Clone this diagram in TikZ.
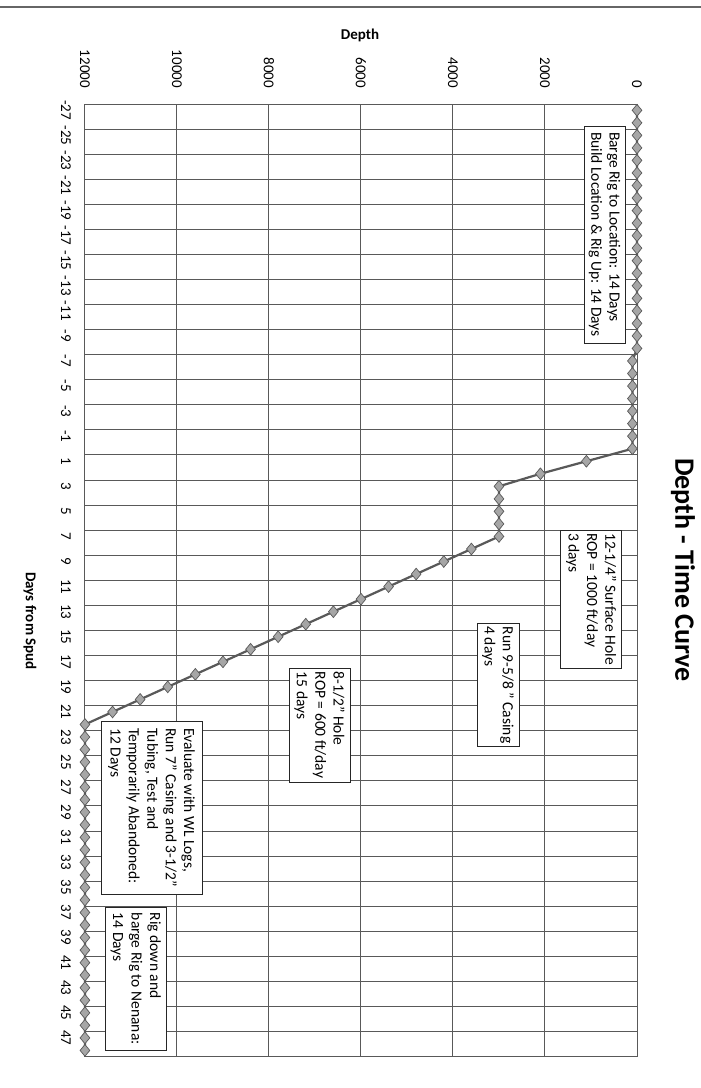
\documentclass[tikz,border=0pt]{standalone}
\usepackage{fontspec}
\setmainfont{Carlito}
\usetikzlibrary{shapes.geometric}

\begin{document}
\begin{tikzpicture}[
    x=1pt, y=-1pt,
    gridline/.style={draw=black!65, line width=1pt},
    welltrack/.style={draw=black!65, line width=2.2pt, line join=round},
    daymark/.style={diamond, draw=black!65, fill=black!35, line width=0.7pt, inner sep=0pt, minimum width=10pt, minimum height=12pt},
    notebox/.style={draw=black!85, line width=1pt, fill=white, rotate=-90, align=left, inner sep=3pt, font=\fontsize{15.5}{18.4}\selectfont},
    ticklbl/.style={rotate=-90, inner sep=0pt, font=\fontsize{15}{17}\selectfont},
    axislbl/.style={inner sep=0pt, font=\bfseries\fontsize{15}{17}\selectfont}
]
    \useasboundingbox (0,0) rectangle (701,1088);
    \fill[white] (0,0) rectangle (701,1088);

    % scan edge at the top of the page
    \draw[black!60, line width=1.3pt] (0,7) -- (701,7);

    % plot area: depth along x, days (categories) along y
    \begin{scope}[shift={(637,104)}, x={(-0.046pt,0pt)}, y={(0pt,-12.535pt)}]
        \foreach \dep in {0,2000,...,12000}
            \draw[gridline] (\dep,0) -- (\dep,76);
        \foreach \k in {0,2,...,76}
            \draw[gridline] (0,\k) -- (12000,\k);

        % depth per day, -27 to 48
        \foreach \dep [count=\k from 0] in {0,0,0,0,0,0,0,0,0,0,0,0,0,0,0,0,0,0,0,0,
                100,100,100,100,100,100,100,100,1100,2100,3000,3000,3000,3000,3000,
                3600,4200,4800,5400,6000,6600,7200,7800,8400,9000,9600,10200,10800,11400,12000,
                12000,12000,12000,12000,12000,12000,12000,12000,12000,12000,12000,12000,12000,
                12000,12000,12000,12000,12000,12000,12000,12000,12000,12000,12000,12000,12000}
            \coordinate (p\k) at (\dep,\k+0.5);
        \draw[welltrack] (p0) \foreach \k in {1,...,75} {-- (p\k)};
        \foreach \k in {0,...,75}
            \node[daymark] (m\k) at (p\k) {};
    \end{scope}

    % depth axis labels
    \foreach \dep in {0,2000,...,12000} {
        \pgfmathsetmacro\xx{637-0.046*\dep}
        \node[ticklbl, anchor=east] (v\dep) at (\xx,88) {\dep};
    }
    % day axis labels
    \foreach \k in {0,2,...,74} {
        \pgfmathtruncatemacro\dd{\k-27}
        \pgfmathsetmacro\yy{104+12.535*(\k+0.5)}
        \node[ticklbl] (d\k) at (66,\yy) {\dd};
    }

    % titles
    \node[font=\bfseries\fontsize{28}{32}\selectfont, rotate=-90, inner sep=0pt] (chart-title) at (683,570) {Depth - Time Curve};
    \node[axislbl] (depth-title) at (360,35) {Depth};
    \node[axislbl, rotate=-90] (day-title) at (30,621) {Days from Spud};

    % activity notes
    \node[notebox, minimum width=217pt, minimum height=41pt] (barge) at (604.5,234.5) {Barge Rig to Location: 14 Days\\Build Location \& Rig Up: 14 Days};
    \node[notebox, minimum width=138pt, minimum height=61pt] (surface) at (591.3,599) {12-1/4" Surface Hole\\ROP = 1000 ft/day\\3 days};
    \node[notebox, minimum width=122pt, minimum height=42pt] (casing) at (498,685) {Run 9-5/8 " Casing\\4 days};
    \node[notebox, minimum width=114pt, minimum height=61pt] (hole) at (319.5,725) {8-1/2" Hole\\ROP = 600 ft/day\\15 days};
    \node[notebox, minimum width=173pt, minimum height=101pt] (evaluate) at (151.5,807.5) {Evaluate with WL Logs,\\Run 7" Casing and 3-1/2"\\Tubing, Test and\\Temporarily Abandoned:\\12 Days};
    \node[notebox, minimum width=143.5pt, minimum height=61.5pt] (rigdown) at (135.75,978.75) {Rig down and\\barge Rig to Nenana:\\14 Days};
\end{tikzpicture}
\end{document}
